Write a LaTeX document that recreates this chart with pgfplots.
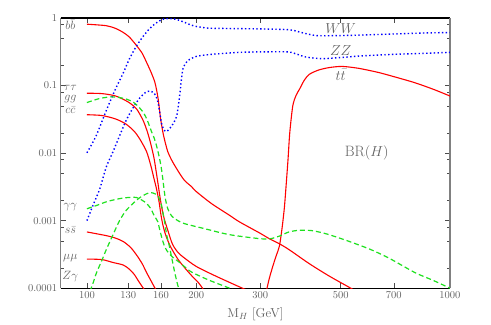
\documentclass[border=0pt]{standalone}
\usepackage{pgfplots}
\pgfplotsset{compat=1.18}
\definecolor{lbl}{gray}{0.38}
\definecolor{grn}{RGB}{30,225,30}
\begin{document}
\begin{tikzpicture}
\begin{axis}[
    xmode=log, ymode=log,
    width=389pt, height=270pt, scale only axis,
    xmin=84.7, xmax=1000, ymin=1e-4, ymax=1,
    xtick={100,130,160,200,300,500,700,1000},
    xticklabels={100,130,160,200,300,500,700,1000},
    xminorticks=false,
    ytick={1e-4,1e-3,1e-2,0.1,1},
    yticklabels={0.0001,0.001,0.01,0.1,1},
    minor ytick={2e-4,5e-4,8e-4,2e-3,5e-3,8e-3,0.02,0.05,0.08,0.2,0.5,0.8},
    tick align=inside,
    major tick length=5pt, minor tick length=3pt,
    tick label style={font=\fontsize{10.5}{12}\selectfont, text=lbl},
    xlabel={M$_H$ [GeV]},
    xlabel style={font=\fontsize{13}{15}\selectfont, text=lbl, yshift=-2pt},
    separate axis lines,
    x axis line style={black, line width=1.2pt},
    y axis line style={black!50, line width=1.5pt},
    every tick/.style={black!70},
    smooth, tension=0.45,
    red line/.style={red, line width=1.1pt, mark=none},
    blue line/.style={blue, line width=1.4pt, dash pattern=on 1.4pt off 2.4pt, mark=none},
    green line/.style={grn, line width=1.2pt, dash pattern=on 5pt off 3pt, mark=none},
]
% b bbar
\addplot[red line] coordinates {(100,0.81) (113,0.77) (120,0.70) (126,0.61) (131,0.52) (137,0.39) (142,0.30) (146,0.22) (150,0.16) (154,0.11) (157,0.065) (159.6,0.032) (162,0.02) (164,0.015) (167,0.0105) (172,0.0075) (180,0.005) (186,0.0039) (194,0.0032) (200,0.0027) (220,0.0018) (247,0.0012) (263,0.00096) (300,0.00065) (318,0.00054) (340,0.00045) (361,0.00037) (410,0.00023) (466,0.00015) (533,0.0001) (550,0.00009)};
% tau tau
\addplot[red line] coordinates {(100,0.077) (110,0.076) (120,0.07) (130,0.057) (137,0.045) (143,0.03) (147,0.02) (150,0.0135) (153,0.0085) (155,0.0055) (157,0.0035) (159,0.0022) (161,0.0015) (163,0.0011) (167,0.00072) (172,0.00045) (178,0.00034) (184,0.00029) (200,0.00021) (227,0.00015) (268,0.0001) (275,0.000095)};
% c cbar
\addplot[red line] coordinates {(100,0.037) (110,0.036) (120,0.032) (128,0.027) (135,0.021) (140,0.016) (146,0.0105) (150,0.0065) (153,0.0042) (155.6,0.0029) (158,0.0019) (160,0.0012) (162,0.00085) (165,0.0006) (170,0.00041) (178,0.00027) (186,0.0002) (195,0.00015) (203,0.00012) (211,0.00009)};
% s sbar
\addplot[red line] coordinates {(100,0.00068) (113,0.0006) (120,0.00055) (126,0.00049) (132,0.0004) (137,0.00031) (142,0.00023) (146,0.00017) (150,0.00013) (154,0.0001) (156,0.00009)};
% mu mu
\addplot[red line] coordinates {(100,0.00027) (110,0.000265) (118,0.00024) (126,0.00022) (131,0.00019) (135,0.00016) (139,0.000125) (143,0.0001) (145,0.00009)};
% t tbar
\addplot[red line] coordinates {(312,0.00009) (318,0.00014) (325,0.00021) (332,0.0003) (339,0.00042) (345,0.0008) (350,0.0016) (354,0.0035) (358,0.008) (362,0.02) (369,0.05) (377,0.072) (385,0.088) (397,0.12) (410,0.147) (435,0.17) (466,0.185) (505,0.192) (560,0.18) (636,0.156) (720,0.13) (801,0.11) (900,0.088) (1000,0.07)};
% W W
\addplot[blue line] coordinates {(100,0.0101) (106,0.018) (113.3,0.044) (120,0.09) (125.8,0.152) (131,0.25) (137,0.387) (143,0.54) (149,0.70) (155,0.84) (160.4,0.94) (165,0.98) (170,0.98) (175,0.96) (180,0.92) (186,0.86) (192,0.80) (200,0.75) (215,0.71) (240,0.70) (300,0.69) (361,0.67) (390,0.61) (428,0.55) (500,0.55) (573,0.56) (700,0.58) (850,0.60) (1000,0.61)};
% Z Z
\addplot[blue line] coordinates {(100,0.001) (104,0.0017) (108.6,0.003) (113,0.0062) (118,0.0105) (123,0.018) (128.6,0.0315) (135,0.05) (140,0.066) (145,0.079) (149,0.083) (152,0.08) (155,0.07) (157,0.056) (158.7,0.04) (160.4,0.028) (163,0.022) (166,0.021) (171,0.025) (176.6,0.035) (180,0.07) (182,0.12) (184,0.18) (189,0.23) (200,0.27) (221,0.29) (263,0.31) (300,0.315) (357,0.315) (380,0.29) (400,0.265) (445,0.25) (500,0.26) (573,0.275) (700,0.29) (850,0.30) (1000,0.31)};
% g g
\addplot[green line] coordinates {(100,0.056) (108,0.064) (116,0.068) (122,0.067) (129,0.0625) (134,0.057) (138,0.05) (142,0.042) (145,0.035) (148,0.027) (150.5,0.021) (153,0.017) (155.6,0.0127) (158,0.009) (160,0.0064) (161.5,0.0045) (163,0.003) (164.5,0.0021) (167,0.0015) (171,0.00118) (178,0.001) (186,0.0009) (209,0.00077) (247,0.00062) (300,0.00054) (320,0.00054) (339,0.00059) (360,0.00068) (385,0.00072) (418,0.00071) (460,0.00063) (518,0.00051) (600,0.00038) (678,0.00028) (801,0.00017) (900,0.00013) (1000,0.0001)};
% gamma gamma
\addplot[green line] coordinates {(100,0.0015) (107,0.0017) (113,0.0019) (122,0.0021) (130,0.0022) (137,0.0022) (142,0.002) (146,0.0018) (150,0.0015) (153,0.0012) (156.7,0.00097) (158.5,0.00075) (160.5,0.00058) (163,0.00044) (166,0.00036) (172,0.00029) (180,0.00024) (192,0.00018) (200,0.00016) (218,0.00013) (247,0.0001) (255,0.000093)};
% Z gamma
\addplot[green line] coordinates {(102,0.00009) (104,0.00012) (106.3,0.00017) (110,0.00026) (113,0.00037) (118,0.00062) (123,0.001) (128,0.0014) (134,0.0018) (140,0.0022) (146,0.0025) (150,0.0026) (154,0.0025) (157,0.0023) (160,0.0018) (162,0.0013) (164,0.0009) (166,0.0006) (169,0.0004) (172,0.00025) (175,0.00016) (178,0.00011) (180,0.00009)};

\begin{scope}[every node/.style={text=lbl, font=\fontsize{12}{14}\selectfont, inner sep=0pt}]
\node at (axis cs:90,0.80) {$b\bar b$};
\node at (axis cs:90,0.092) {$\tau\tau$};
\node at (axis cs:90,0.064) {$gg$};
\node at (axis cs:90,0.043) {$c\bar c$};
\node at (axis cs:90,0.0016) {$\gamma\gamma$};
\node at (axis cs:90,0.00072) {$s\bar s$};
\node at (axis cs:90,0.00028) {$\mu\mu$};
\node at (axis cs:90,0.000147) {$Z\gamma$};
\end{scope}
\begin{scope}[every node/.style={text=lbl, font=\fontsize{14}{16}\selectfont, inner sep=0pt}]
\node at (axis cs:500,0.69) {$WW$};
\node at (axis cs:500,0.33) {$ZZ$};
\node at (axis cs:500,0.145) {$t\bar t$};
\node[font=\fontsize{15}{17}\selectfont] at (axis cs:590,0.0101) {BR$(H)$};
\end{scope}
\coordinate (sw) at (rel axis cs:0,0);
\coordinate (ne) at (rel axis cs:1,1);
\end{axis}
\pgfresetboundingbox
\path ([xshift=-60.7pt,yshift=-36pt]sw) rectangle ([xshift=41pt,yshift=18pt]ne);
\end{tikzpicture}
\end{document}
